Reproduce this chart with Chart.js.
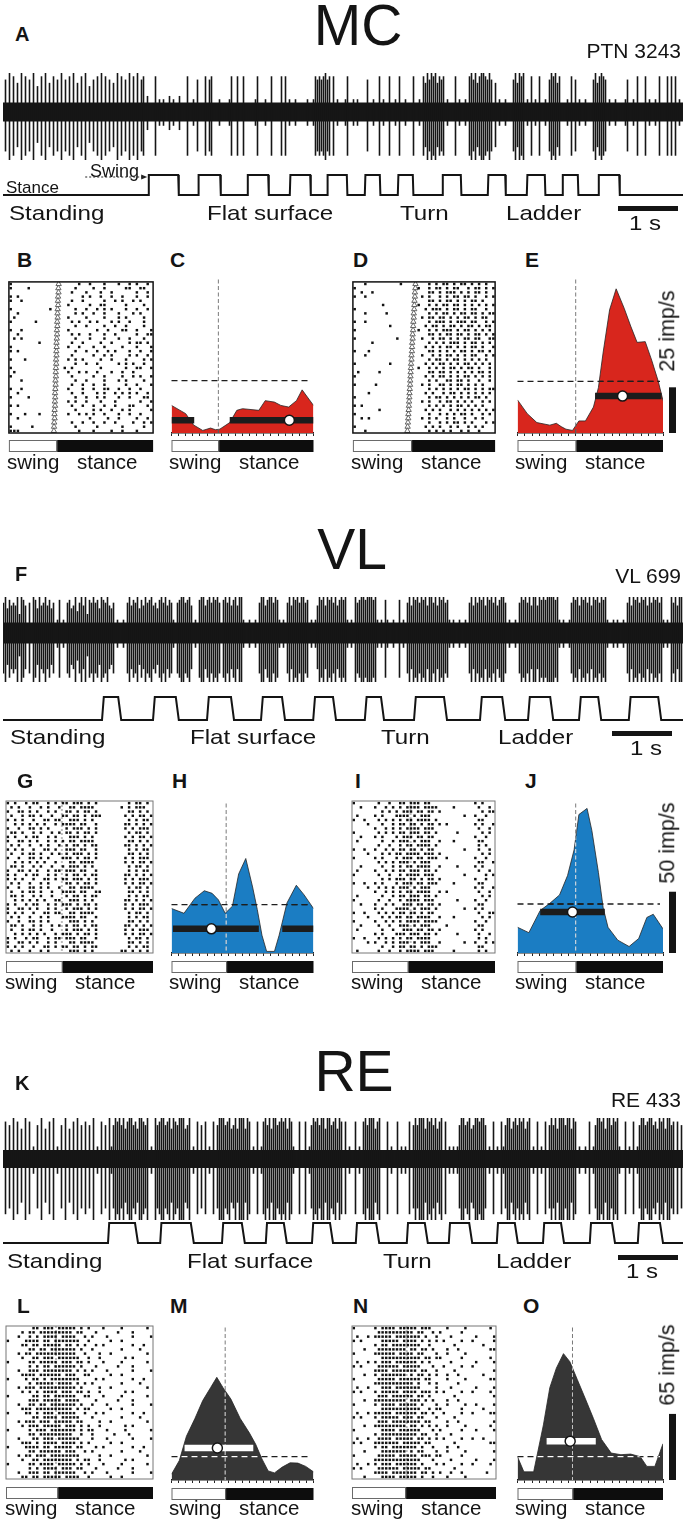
<!DOCTYPE html>
<html>
<head>
<meta charset="utf-8">
<title>MC / VL / RE</title>
<script src="https://cdn.jsdelivr.net/npm/chart.js@4.4.1/dist/chart.umd.min.js"></script>
<style>
  html, body { margin: 0; padding: 0; background: #fff; }
  body { position: relative; width: 686px; height: 1529px; overflow: hidden; font-family: "Liberation Sans", Arial, sans-serif; color: #141414; }
  canvas { position: absolute; }
  .t { position: absolute; white-space: nowrap; line-height: 1; }
</style>
</head>
<body>
<script>
/* ---------- DATA ---------- */

// spike envelopes, one digit per 1/30 s (0 = background noise only, 9 = largest spike)
const BIN = 1 / 30;
const mcSpikes = ['0709080609','0807090508','0906080709','0708090608','0905070809','0807060908','0709080907','8020008010',
  '1002010020','0080010700','0807800010','0001800800','8000001800','0100800008','0801001000','0010018787','8978080100',
  '0180010100','0070010080','1008001080','0100080010','8697989687','8010008010','0108979689','9879706010','0100079698',
  '9010801080','0107989680','0010807010','0100079689','8701001000','0170010800','0801001080','0080808010'].join('');
const vlSpikes = ['7958676939','8607098596','7968570180','1078569479','6938797859','8796570100','1079687958','6978967589',
  '7968710789','9789601089','9689798970','8979689699','1001001079','9689979810','1079698979','9780101698','9698979689',
  '8910109789','9899989101','0810010080','1079698979','8969979698','9781010010','0107969798','9698979689','9701001079',
  '8979699698','9899998910','1001798969','8979698979','8910010100','1079698979','8969798979','1010979699'].join('');
const reSpikes = ['0807090806','0908010709','0608090107','0906080907','0807090108','0709179897','9689978699','8790109789',
  '9789698799','9679010807','0801080799','9789679699','9698010801','8979699789','8969810080','0801798979','9699789698',
  '0801008010','8979996890','0080100801','0108079799','9698979689','0801010179','9789679989','9701080108','1799689798',
  '9689010801','0807979699','9799698010','0108017998','9699798910','0801080179','9789978698','9699780807'].join('');

// spike amplitudes (same units as the trace axis)
const mcAmp = { up: 39, down: 48, noise: 9.5 };
const vlAmp = { up: 36, down: 49, noise: 10.5 };
const reAmp = { up: 41, down: 61, noise: 9 };

// swing periods [onset, offset] in s
const mcSteps = [[2.42,2.92],[3.25,3.62],[4.07,4.42],[4.78,5.12],[5.4,5.73],[6.03,6.28],[6.58,6.83],[7.32,7.63],[8.08,8.37],[8.73,9.03],[9.32,9.58],[9.92,10.27]];
const vlSteps = [[1.65,1.92],[2.5,2.88],[3.4,3.8],[4.3,4.65],[5.17,5.5],[6.03,6.3],[6.85,7.35],[7.95,8.32],[8.75,9.12],[9.6,9.92],[10.43,10.92]];
const reSteps = [[1.75,2.2],[2.62,3.13],[3.65,3.98],[4.38,4.68],[5.15,5.45],[5.88,6.22],[6.73,7.03],[7.43,7.77],[8.23,8.53],[9.0,9.3],[9.78,10.15],[10.58,10.95]];
const mcScaleStart = 10.25, vlScaleStart = 10.15, reScaleStart = 10.25;
const swingArrowFrom = 1.37;

const sectionNames = ['MC', 'VL', 'RE'];
const cellIds = ['PTN 3243', 'VL 699', 'RE 433'];
const taskLabels = ['Standing', 'Flat surface', 'Turn', 'Ladder'];
const rateScales = [25, 50, 65];   // imp/s

// rasters: one string per step cycle, 40 phase bins from swing onset
const rasterB = [
"#..................#..#...#...#..#.#..#.",
"#....#............#....#..#.....##..##..",
".................#...#...#..#......#..#.",
"#.#.................#.#..#..#..#...#..#.#",
"#..#.............#..#.....#..#.#..#.#...",
"................#.....#..##.....#....#..",
"#..........#......#..#..#.#.#...#..#..#.",
"..#...............#.#..#..#...#...#.#..",
".#..............#....#....#...#.#....#..",
"#......#.........#.#..#.#...#.#..#...#..",
"..................#..#....#..#..#....#..",
"#..#............#.......#..#...##..#...#",
"..#..............#.#..#...#..#.....#..##",
".#.#..............#...#...#...#..#...#..",
"........#........#..#....#..#....#.##.#.",
"#...............#..#...#..#....#...#...#",
"#.#...............#..#..#..#.#...#..#..#",
".................#.....#..#.#....#.#..#.",
"#...#...........#.#.#....#..#...#....#.#",
"..................#..#..#.....#.#.#..#..",
"#..............#.#.......#......#..##..#",
".#..............#..#.#..#...#..#..#.....",
"#................#.....#..#....#..#.#..#",
"...#..............#..#....#...#.#....#..",
".................#..#..#..#.....#..#...#",
"#..#............#...#..#..##..#..#..#...",
"..#..............#..#...#.#..#.#.#.#..#.",
"#....#............#..#..#.#...#..#...##.",
"................#.#..#...#...#......#..#",
"#.#..............#..#..#..#..#...##...#.",
"..................#....#.#..#..#.#.....#",
"#...#...#.......#..#.#.#..#...#..#..#...",
"..#...................#....#..#....#..#.",
".................#..#..#..#..#....#..#.#",
"#.....#...........#.....#......#.....#..",
"###................#...#....#..#...#...."];
const rasterD = [
"...#.........#.......#.#.##.#.##.#.#.#..",
"#.................#..#.##.#.##..#.##.#.#",
"..#..#...............##.#.###.#.#.##.#..",
"#..#...............#.#..#.#.##.##.#..#.#",
".....................##.#.##.#.#.##.#...",
"........#.........#..#.#.##.##.#.#.#.#.#",
"#...................#.###.#.##.#.##..#..",
"...#.....#...........#.#.##.#.##.##.#.##",
"...................#.##.##.#.#.##.#.##..",
"#..#.................#.###.#.###.##..#.#",
"..........#.........#.##.#.##.#.##.#.##.",
"#.................#..#.#.###.#.##.#.#.#.",
".....................##.#.##.##.#.##.#.#",
"#...........#......#..#.##.#.#.##.##..##",
".....#...............#.#.#.###.#.##.#.#.",
"....................#.#.#.##.#.#.##.#..#",
"#...#................##.#.#.#.##.#.##.#.",
"...#...............#..#.#.##.#.#.##..#.#",
".....................#.##.#.##.#.#.#.#..",
"#.........#.........#.#.##.#.#.##.#.#.#.",
"..................#..#.#.#.##.#.##.#..#.",
".#.....#.............##.##.#.#.#.#.##.#.",
"#...................#.#.##.#.#.##.#.#.#.",
".....................#.#..##.##.#..#..#.",
"#.....#............#.#..##.#.##.#.#.#...",
".....................#.#.#.#.#.##.#.#.##",
"....#...............#.#..#.##.#.#.#.#.#.",
"#....................#.##.#.#.#.#.##.#..",
"...................#.#..#.##.#.#.#..#.#.",
"#.#..................#.#.#.#.##.#.#.#...",
".......#............#.#.#..#.#.#.#.#.#.#",
"#....................#..#.#.#.##.#..#.#.",
"..#.#..............#.#.#..#.#..#..#.#...",
".....................#..#.#.##.#.#...#.#",
"#...................#.#.#..#.#..#.#.#...",
"...#.................#.#.#.#..#.#..#...."];
const rasterG = [
"#.#..#.##..#.#.##.###.#.#........#.##.#.",
".#.#..#..#.#..#..##.####.......#.#.###.",
"#..##.#.#..#.#..##.#.##.#........##.#.#.",
".#..#.##.#..#..##.##.#.###......#.#.##.#",
"#.#.#..#..##.##..###.#.#.........#.#.##.",
"..#.#.#.#.#..#.####.##..#.......##.#.#.#",
"#..#..##.#.#....#.###.#.#.......#.#.###.",
".##.#..#.#..#.#.##.#.##.#........#.##.#.",
"#.#..#.##..#.#...###.#.#........#.#.##.#",
"#..##.#.#..#.#.#.##.####.........##.#.#.",
".#.#..#..#.#..#.#.##.#.##.......##.#.#.#",
"#.#.#..#..##.#..###.##..#........#.#.##.",
".#..#.##.#..#.#.#.###.#.#........##.#.#.",
"#..#..##.#.#...###.#.##.#.......#.#.###.",
"..#.#.#.#.#..#...##.####........#.#.##.#",
".##.#..#.#..#..#.###.#.#.........#.##.#.",
"#..##.#.#..#.##.###.##..#........#.#.##.",
"#.#..#.##..#.#..#.##.#.##.......##.#.#.#",
"#.#.#..#..##.#.##.###.#.#.......#.#.###.",
".#.#..#..#.#....##.#.##.#.......#.#.##.#",
"#..#..##.#.#..#..##.####.........#.##.#.",
".#..#.##.#..#..####.##..##.......##.#.#.",
".##.#..#.#..#...#.##.#.##........#.#.##.",
"..#.#.#.#.#..##..###.#.#........##.#.#.#",
"#.#..#.##..#.#.###.#.##.#.......#.#.###.",
"#..##.#.#..#.#..#.###.#.#.......#.#.##.#",
"#.#.#..#..##.##..##.####.........#.##.#.",
".#.#..#..#.#...####.##..#........#.#.##.",
"#..#..##.#.#.....###.#.#.........##.#.#.",
".##.#..#.#..#.#.#.##.#.##.......##.#.#.#",
".#..#.##.#..#...#.###.#.#.......#.#.###.",
"..#.#.#.#.#..#.###.#.##.#.......#.#.##.#",
"#.#..#.##..#.##.###.##..#........#.##.#.",
"#..##.#.#..#.#...##.####.........##.#.#.",
"#.#.#..#..##.#.##.##.#.##........#.#.##.",
".#.#..#..#.#.....###.#.#.......##.#.#.#"];
const rasterI = [
"#......#..#..##.###.##............#.#...",
"..#...#..#.#.#.####.####....#......#..#.",
"........#.#.#.###.##.##.#...........#.##",
".#....#.#...####.#.###.........#..#..#..",
"#..#...#.#.#.#.##.####.#...........##...",
"....#...#..#.##.##.#.##.#.#.......#.#..#",
"......#..#.#.#.####.###............#..#.",
"#......#.#.#.##.###.##.#.....#......#.#.",
"..#...#.#...#.###.##.##...........#..#..",
".#......#..#.###.#.###..#...#......##...",
".......#..#..#.##.####.#...........#.#..#",
"#..#..#..#.#.##.##.#.##........#...#..#.",
"....#...#.#.##.####.###.#...........#.#.",
"#.....#.#...#.###.##.###..#.......#..#..",
".......#.#.#.###.#.###.............##..#",
"..#.....#..#.#.##.####..#....#....#.#...",
".#....#..#.#.##.###.##.#...........#..#.",
"#......#..#..#.####.###........#.....#.#.",
"........#.#.###.##.#.##.#.........#..#..",
"#..#..#.#...#.###.##.###....#......##...",
"....#..#.#.#.###.#.###............#.#..#",
"......#..#.#.#.##.####..#.#........#..#.",
".#......#..#.##.###.##.#............#.#.",
"#......#..#..#.####.###......#....#..#..",
"..#...#..#.#..###.##.##.#..........##...",
"......#.#...####.#.###.#.......#..#.#...",
"#..#...#.#.#.##.##.#.##............#..##",
"....#...#.#.##.##.####..#...#.......#.#.",
"#.....#..#.#.#.####.####..........#..#..",
"..#....#..#..###.#.###....#........##...",
".#......#..#..###.##.##.#.........#.#...",
"......#.#...###.###.##.#.....#.....#..#.",
"#..#...#.#.#.#.##.####.............#.#.",
"....#.#..#.#.###.#.###..#......#..#..#.#",
"........#..#.##.##.#.###...........##...",
".#.....#..#..#.####.###.....#......#.#..."];
const rasterL = [
".......##.###.#####.#.#...#....#......#.",
"....#.##.#########.##...#.....#...#.....",
"...#..#.#.####.####..#.#...#......#....#",
"#....####.##.#######..#.....#..#........",
"....##.##.#####.##.#.#..#.#.......#..#..",
"......##.##.#######.#..#.......#....#...",
"...#.##.###########..#...#..#.........#.",
"....#..##.###.######..#..#......#.#.....",
"#.....##.#####.###.##.#...#....#......#.",
"......#.#.##.######.#...#.....#...#.....",
"...#..###.########.#.#.#...#......#....#",
"....####.######.###..##.....#..#........",
"#....#.##.#.########....#.#.......#..#..",
"......#.#####.####.#.#.#.......#....#...",
"...#.###.##########.#....#..#.........#.",
"....#.#.#.####.###.##.#..#......#.#.....",
"#......##.##.######..##...#....#......#.",
"......###.#####.####....#.....#...#.....",
"...#..##.##.#######.#..#...#......#....#",
"....###.##########.#.##.....#..#........",
"#....##.#.###.#####..#..#.#.......#..#..",
".......##.####.#####...#.......#....#...",
"...#.###.###.#####.##....#..#.........#.",
"....#.###.#####.###.#.#..#......#.#.....",
"#.....#.###.#######.#.##...#....#......#.",
"......##.#########..#..#.....#...#.....",
"...#...##.###.######...#...#......#....#",
"....###.#.####.####.#.#.....#..#........",
"#....####.##.#####.##...#.#.......#..#..",
"......##.######.###..#.#.......#....#...",
"...#.##.###.########.....#..#.........#.",
"....#..##.########.#.##..#......#.#.....",
"#.....##.####.#####.#.#...#....#......#.",
"......#.#.####.###.##...#.....#...#.....",
"...#..###.##.######..#.#...#......#....#",
"....##.##.#####.####..#.....#..#........"];
const rasterN = [
"#.....#.####.#####.###....#....#......#.",
".......##########.##..#.#.....#.........",
".#..#.#####.#######.#..#...#......#....#",
"#.#.....#####.####.#.#.#.#....#..#.....#",
"......#.##.########..#......#.......#...",
"...#...########.##.##.#...#..#........##",
"#.....######.####.##...#..#....#........",
"........###########.##.##.....#.......#.",
".#..#.#.###.######.#.#.....#......#....#",
"#.#....######.#####...#..#....#..#......",
"......####.#######.##..#....#..........#",
"...#..#.#######.#.##.#.#..#..#......#...",
"#......#####.######.##....#....#......##",
"......###########.#..#.#.....#..........",
".#..#...###.#######....#...#......#....#",
"#.#...#.#####.####.###.#.#....#..#....#.",
".......###.######.##.#......#..........#",
"...#..#########.###.#.#...#..#..........",
"#.....#.####.#####.#...#..#....#..#....#",
"........###########..#.##.....#.....#...",
".#..#.#####.######.##.#..#....#..#....##",
"#.#...#.#####.###.##...#....#...........",
".......###.########.##....#..#.........#",
"...#..#########.##.#.#.#..#....#......#.",
"#.......####.######...#.#.....#...#....#",
"......#.##########.##..#...#............",
".#..#..####.#####.##.#.#.#....#..#..#...",
"#.#...#######.#####.##......#.........##",
"......#.##.#######.#..#...#..#..........",
"...#....#######.#.##...#..#....#.......#",
"#......#####.#####.###.##.....#.........",
"......#############...#....#......#....#",
".#..#.#.###.######.#...#.#....#..#....#.",
"#.#....######.#####.##......#...........",
"......####.#######.##.#.#..#..#......#...",
"...#....####.#####.#..#...#....#........"];

// stance-onset marks in the rasters (fraction of cycle)
const onsetB = [0.345,0.343,0.344,0.341,0.34,0.341,0.338,0.337,0.338,0.335,0.336,0.333,0.334,0.332,0.33,0.331,0.329,0.33,
  0.327,0.328,0.326,0.325,0.326,0.323,0.324,0.322,0.32,0.321,0.319,0.32,0.317,0.316,0.317,0.314,0.313,0.312];
const onsetD = [0.44,0.439,0.436,0.436,0.433,0.432,0.431,0.428,0.428,0.425,0.424,0.423,0.42,0.42,0.417,0.416,0.415,0.412,
  0.412,0.409,0.408,0.406,0.405,0.403,0.402,0.4,0.398,0.397,0.395,0.394,0.392,0.39,0.389,0.387,0.385,0.383];
const onsetG = 0.38, onsetI = 0.41, onsetL = 0.34, onsetN = 0.38;
const swingB = 0.33, swingD = 0.41, swingG = 0.38, swingI = 0.39, swingL = 0.35, swingN = 0.37;

// phase histograms (imp/s)
const cPhase = [0,0.1,0.155,0.22,0.275,0.31,0.34,0.41,0.46,0.5,0.615,0.66,0.725,0.77,0.825,0.88,0.92,1];
const cRate  = [15.1,10.6,4.4,1.4,2.7,1.8,2.1,5.7,12.4,13.3,12.4,17.7,16.9,15.1,14.2,17.7,23.6,15.1];
const ePhase = [0,0.067,0.133,0.222,0.267,0.3,0.333,0.378,0.422,0.467,0.522,0.556,0.589,0.633,0.678,0.733,0.778,0.822,0.878,0.922,0.967,1];
const eRate  = [18.1,10.6,5.7,4.3,5.3,3.5,2.1,1.4,6.6,6.6,14.2,24.8,44.3,67.4,78.9,68.3,58.5,49.6,50,39.9,28.4,17.7];
const hPhase = [0,0.088,0.165,0.231,0.286,0.33,0.378,0.429,0.473,0.523,0.571,0.604,0.637,0.67,0.725,0.758,0.813,0.879,0.934,1];
const hRate  = [36.3,32.4,44.7,50.8,48.7,43.4,32.4,38.2,64.5,77.1,53.9,35.5,14.5,1.3,1.3,14.5,40.8,55.3,47.4,36.3];
const jPhase = [0,0.078,0.156,0.222,0.289,0.344,0.389,0.422,0.456,0.478,0.511,0.556,0.589,0.622,0.689,0.767,0.833,0.889,0.933,1];
const jRate  = [21,16.6,34.7,40.5,47.4,63.2,84.2,113,116,118,100,65.8,36.8,21,10.5,5.3,11.8,29,31.6,19.7];
const mPhase = [0,0.055,0.105,0.165,0.22,0.275,0.319,0.363,0.418,0.484,0.549,0.593,0.637,0.681,0.725,0.78,0.835,0.89,0.945,1];
const mRate  = [5.7,19.1,43,60.5,78.1,90.8,101,90.8,79.7,60.5,46.2,35.1,20.7,8.9,7,12.7,16.9,16.6,13.4,8];
const oPhase = [0,0.044,0.111,0.178,0.222,0.267,0.316,0.36,0.411,0.467,0.522,0.578,0.644,0.711,0.778,0.844,0.889,0.944,1];
const oRate  = [22.9,8,8,54.2,90.8,110,124.3,116.3,98.8,79.7,60.5,39.8,26.5,24.9,25.5,22.9,13.4,13.4,35.7];

// activity period bars, their level, preferred phase, mean rate, end of swing
const cBand = [[0,0.16],[0.41,1]], cLevel = 7,    cPref = 0.83,  cMean = 28.7, cSwing = 0.33;
const eBand = [[0.533,0.99]],      eLevel = 20.2, ePref = 0.722, eMean = 28.2, eSwing = 0.4;
const hBand = [[0.01,0.615],[0.78,1]], hLevel = 19.7, hPref = 0.281, hMean = 39.5, hSwing = 0.385;
const jBand = [[0.156,0.6]],       jLevel = 33.5, jPref = 0.378, jMean = 40,   jSwing = 0.4;
const mBand = [[0.092,0.576]],     mLevel = 31.5, mPref = 0.323, mMean = 23,   mSwing = 0.378;
const oBand = [[0.2,0.538]],       oLevel = 38.2, oPref = 0.362, oMean = 23,   oSwing = 0.378;

/* ---------- HELPERS ---------- */

const COLS = 40, ROWS = 36;
const DUR = mcSpikes.length * BIN;

function place(x, y, w, h) {
  const c = document.createElement('canvas');
  c.width = w; c.height = h;
  c.style.left = x + 'px'; c.style.top = y + 'px';
  c.style.width = w + 'px'; c.style.height = h + 'px';
  document.body.appendChild(c);
  return c;
}

function opts(scales, padding, plugins) {
  return {
    responsive: false, animation: false, events: [], devicePixelRatio: 1,
    layout: { padding },
    scales,
    plugins: Object.assign({ legend: { display: false }, tooltip: { enabled: false } }, plugins)
  };
}

function txt(s, x, base, fs, o = {}) {
  const d = document.createElement('div');
  d.className = 't';
  d.textContent = s;
  d.style.fontSize = fs + 'px';
  d.style.top = (base - 0.8465 * fs) + 'px';
  if (o.bold) d.style.fontWeight = 'bold';
  let tr = '';
  if (o.align === 'right') { d.style.right = (686 - x) + 'px'; d.style.transformOrigin = 'right center'; }
  else if (o.align === 'center') { d.style.left = x + 'px'; tr = 'translateX(-50%) '; }
  else { d.style.left = x + 'px'; d.style.transformOrigin = 'left center'; }
  if (o.sx) tr += 'scaleX(' + o.sx + ')';
  d.style.transform = tr;
  document.body.appendChild(d);
}

function vtxt(s, cx, cy, fs) {
  const d = document.createElement('div');
  d.className = 't';
  d.textContent = s;
  d.style.fontSize = fs + 'px';
  d.style.left = cx + 'px'; d.style.top = cy + 'px';
  d.style.transform = 'translate(-50%,-50%) rotate(-90deg)';
  document.body.appendChild(d);
}

/* ---------- PLUGINS ---------- */

const scaleBarPlugin = {
  id: 'sbar',
  afterDraw(chart, args, o) {
    const { ctx, chartArea: a, scales: { x } } = chart;
    const x0 = x.getPixelForValue(o.start), x1 = x.getPixelForValue(o.start + 1);
    ctx.save();
    ctx.fillStyle = '#141414';
    ctx.fillRect(x0, a.bottom + o.dy, x1 - x0, 5);
    ctx.restore();
  }
};

const swingArrowPlugin = {
  id: 'swingArrow',
  afterDraw(chart, args, o) {
    const { ctx, chartArea: a, scales: { x } } = chart;
    const x0 = x.getPixelForValue(o.from), x1 = x.getPixelForValue(o.to) - 1;
    const y = a.top + 2;
    ctx.save();
    ctx.strokeStyle = '#222'; ctx.lineWidth = 1; ctx.setLineDash([2, 2]);
    ctx.beginPath(); ctx.moveTo(x0, y); ctx.lineTo(x1 - 5, y); ctx.stroke();
    ctx.setLineDash([]); ctx.fillStyle = '#222';
    ctx.beginPath(); ctx.moveTo(x1, y); ctx.lineTo(x1 - 6, y - 2.5); ctx.lineTo(x1 - 6, y + 2.5); ctx.closePath(); ctx.fill();
    ctx.restore();
  }
};

const phaseBarPlugin = {
  id: 'phaseBar',
  afterDraw(chart, args, o) {
    const { ctx, chartArea: a, scales: { x } } = chart;
    const x0 = x.getPixelForValue(0), x1 = x.getPixelForValue(1), xs = x.getPixelForValue(o.swingEnd);
    const y0 = a.bottom + o.gap;
    ctx.save();
    ctx.fillStyle = '#0d0d0d';
    ctx.fillRect(xs, y0, x1 - xs, 12);
    ctx.strokeStyle = '#6a6a6a'; ctx.lineWidth = 1;
    ctx.strokeRect(x0 + 0.5, y0 + 0.5, xs - x0, 11);
    ctx.restore();
  }
};

const boxPlugin = {
  id: 'box',
  afterDraw(chart, args, o) {
    const { ctx, chartArea: a } = chart;
    ctx.save();
    ctx.strokeStyle = o.color; ctx.lineWidth = o.width;
    ctx.strokeRect(a.left, a.top, a.right - a.left, a.bottom - a.top);
    ctx.restore();
  }
};

const refLinesPlugin = {
  id: 'refLines',
  afterDatasetDraw(chart, args, o) {
    if (args.index !== 2) return;
    const { ctx, chartArea: a, scales: { x, y } } = chart;
    const xs = x.getPixelForValue(o.swingEnd), ym = y.getPixelForValue(o.mean);
    const pts = args.meta.data;
    const lines = (vCol, hCol) => {
      ctx.lineWidth = 1; ctx.setLineDash([4, 2.5]); ctx.strokeStyle = vCol;
      ctx.beginPath(); ctx.moveTo(xs, a.top); ctx.lineTo(xs, a.bottom); ctx.stroke();
      ctx.lineWidth = 1.3; ctx.setLineDash([6, 4]); ctx.strokeStyle = hCol;
      ctx.beginPath(); ctx.moveTo(a.left, ym); ctx.lineTo(a.right - 3, ym); ctx.stroke();
    };
    ctx.save();
    lines(o.vOut, o.hOut);
    ctx.beginPath();
    ctx.moveTo(pts[0].x, a.bottom);
    pts.forEach(p => ctx.lineTo(p.x, p.y));
    ctx.lineTo(pts[pts.length - 1].x, a.bottom);
    ctx.closePath();
    ctx.clip();
    lines(o.vIn, o.hIn);
    ctx.restore();
  }
};

const rateBarPlugin = {
  id: 'rateBar',
  afterDraw(chart, args, o) {
    const { ctx, chartArea: a, scales: { y } } = chart;
    const y0 = y.getPixelForValue(0), y1 = y.getPixelForValue(o.value);
    ctx.save();
    ctx.fillStyle = '#141414';
    ctx.fillRect(a.right + 6, y1, 7, y0 - y1);
    ctx.restore();
  }
};

/* ---------- CHART BUILDERS ---------- */

function drawTrace(code, cy, amp) {
  const bars = [];
  for (let i = 0; i < code.length; i++) {
    const d = Number(code[i]);
    if (!d) continue;
    const k = d / 9;
    bars.push({ x: (i + 0.25) * BIN, y: [-(amp.noise + k * (amp.down - amp.noise)), amp.noise + k * (amp.up - amp.noise)] });
  }
  const R = 66;
  new Chart(place(3, cy - R, 680, 2 * R), {
    type: 'bar',
    data: { datasets: [
      { type: 'bar', data: bars, backgroundColor: '#161616', barThickness: 1.6, inflateAmount: 0 },
      { type: 'line', data: [{ x: 0, y: amp.noise }, { x: DUR, y: amp.noise }], fill: { value: -amp.noise },
        backgroundColor: '#161616', borderWidth: 0, pointRadius: 0 }
    ] },
    options: opts({ x: { type: 'linear', min: 0, max: DUR, display: false, offset: false },
                    y: { min: -R, max: R, display: false } }, 0, {})
  });
}

function drawSteps(steps, hi, lo, rise, fall, barStart, barDy, arrow) {
  const pts = [{ x: 0, y: 0 }];
  steps.forEach(([a, b]) => pts.push({ x: a, y: 0 }, { x: a + rise, y: 1 }, { x: b, y: 1 }, { x: b + fall, y: 0 }));
  pts.push({ x: DUR, y: 0 });
  const padT = 8, padB = 40;
  new Chart(place(3, hi - padT, 680, lo - hi + padT + padB), {
    type: 'line',
    data: { datasets: [{ data: pts, borderColor: '#141414', borderWidth: 2, pointRadius: 0, tension: 0, clip: false }] },
    options: opts({ x: { type: 'linear', min: 0, max: DUR, display: false }, y: { min: 0, max: 1, display: false } },
                  { top: padT, bottom: padB, left: 0, right: 0 },
                  { sbar: { start: barStart, dy: barDy }, swingArrow: arrow || false }),
    plugins: [scaleBarPlugin, swingArrowPlugin]
  });
}

function rasterPoints(rows) {
  const pts = [];
  rows.forEach((row, r) => {
    for (let c = 0; c < Math.min(row.length, COLS); c++) {
      if (row[c] === '#') pts.push({ x: (c + 0.5) / COLS, y: r + 0.5 });
    }
  });
  return pts;
}

function drawRaster(box, rows, onset, swingEnd, gap, border) {
  const sets = [{ type: 'scatter', data: rasterPoints(rows), pointStyle: 'rect', pointRadius: 1.75,
                  backgroundColor: '#121212', borderWidth: 0 }];
  if (Array.isArray(onset)) {
    sets.push({ type: 'scatter', data: onset.map((v, r) => ({ x: v, y: r + 0.5 })), pointStyle: 'triangle',
                pointRadius: 3.1, backgroundColor: '#fff', borderColor: '#555', borderWidth: 0.9 });
  } else {
    sets.push({ type: 'line', data: [{ x: onset, y: 0 }, { x: onset, y: ROWS }], borderColor: '#bdbdbd',
                borderWidth: 2, borderDash: [2, 2], pointRadius: 0 });
  }
  const w = box.r - box.l, h = box.b - box.t;
  new Chart(place(box.l - 1, box.t - 1, w + 2, h + 24), {
    type: 'scatter',
    data: { datasets: sets },
    options: opts({ x: { type: 'linear', min: 0, max: 1, display: false },
                    y: { min: 0, max: ROWS, reverse: true, display: false } },
                  { left: 1, right: 1, top: 1, bottom: 23 },
                  { phaseBar: { swingEnd, gap }, box: border }),
    plugins: [phaseBarPlugin, boxPlugin]
  });
}

function drawHist(box, h) {
  const bandPts = [];
  h.band.forEach(([a, b], i) => {
    if (i) bandPts.push({ x: (a + h.band[i - 1][1]) / 2, y: null });
    bandPts.push({ x: a, y: h.level }, { x: b, y: h.level });
  });
  const padR = h.scale ? 16 : 2;
  const w = box.r - box.l;
  const plugins = [phaseBarPlugin, refLinesPlugin];
  if (h.scale) plugins.push(rateBarPlugin);
  new Chart(place(box.l - 2, box.t - 2, w + 2 + padR, (box.b - box.t) + 2 + 3 + 20), {
    type: 'line',
    data: { datasets: [
      { type: 'scatter', data: [{ x: h.pref, y: h.level }], pointRadius: 5, pointBackgroundColor: '#fff',
        pointBorderColor: '#141414', pointBorderWidth: 1.5 },
      { type: 'line', data: bandPts, borderColor: h.bandColor, borderWidth: 6.5, pointRadius: 0,
        borderCapStyle: 'butt', spanGaps: false, fill: false },
      { type: 'line', data: h.phase.map((p, i) => ({ x: p, y: h.rate[i] })), fill: 'origin',
        backgroundColor: h.color, borderColor: '#262626', borderWidth: 0.8, pointRadius: 0, tension: 0 }
    ] },
    options: opts({
      x: { type: 'linear', min: 0, max: 1,
           ticks: { display: false, stepSize: 0.05 },
           grid: { drawOnChartArea: false, drawTicks: true, tickLength: 3, color: '#222', lineWidth: 1 },
           border: { display: true, color: '#1a1a1a', width: 1.5 } },
      y: { min: 0, max: h.yMax, display: false }
    }, { left: 2, right: padR, top: 2, bottom: 20 }, {
      phaseBar: { swingEnd: h.swing, gap: h.gap },
      refLines: { swingEnd: h.swing, mean: h.mean, vOut: '#7a7a7a', hOut: '#1e1e1e', vIn: h.vIn, hIn: h.hIn },
      rateBar: h.scale ? { value: h.scale } : false
    }),
    plugins
  });
}

/* ---------- LAYOUT ---------- */

const RED = '#d8261d', BLUE = '#1b7dc3', DARK = '#363636';

// MC
drawTrace(mcSpikes, 112, mcAmp);
drawSteps(mcSteps, 175, 195, 0.01, 0.01, mcScaleStart, 11, { from: swingArrowFrom, to: mcSteps[0][0] });
drawRaster({ l: 5, r: 157, t: 278, b: 433 }, rasterB, onsetB, swingB, 7, { color: '#111', width: 1.5 });
drawRaster({ l: 349, r: 499, t: 278, b: 433 }, rasterD, onsetD, swingD, 7, { color: '#111', width: 1.5 });
drawHist({ l: 167, r: 318, t: 275, b: 433 }, { phase: cPhase, rate: cRate, band: cBand, level: cLevel, pref: cPref,
  mean: cMean, swing: cSwing, yMax: 84, color: RED, bandColor: '#1c1c1c', vIn: '#555', hIn: '#1e1e1e', gap: 7 });
drawHist({ l: 513, r: 663, t: 275, b: 433 }, { phase: ePhase, rate: eRate, band: eBand, level: eLevel, pref: ePref,
  mean: eMean, swing: eSwing, yMax: 84, color: RED, bandColor: '#1c1c1c', vIn: '#555', hIn: '#1e1e1e', gap: 7, scale: rateScales[0] });

// VL
drawTrace(vlSpikes, 632.5, vlAmp);
drawSteps(vlSteps, 697, 720, 0.03, 0.05, vlScaleStart, 11, null);
drawRaster({ l: 3, r: 156, t: 798, b: 953 }, rasterG, onsetG, swingG, 8, { color: '#777', width: 1 });
drawRaster({ l: 349, r: 498, t: 798, b: 953 }, rasterI, onsetI, swingI, 8, { color: '#777', width: 1 });
drawHist({ l: 167, r: 318, t: 799, b: 953 }, { phase: hPhase, rate: hRate, band: hBand, level: hLevel, pref: hPref,
  mean: hMean, swing: hSwing, yMax: 122, color: BLUE, bandColor: '#1c1c1c', vIn: '#d5e6f4', hIn: '#1e1e1e', gap: 8 });
drawHist({ l: 513, r: 663, t: 799, b: 953 }, { phase: jPhase, rate: jRate, band: jBand, level: jLevel, pref: jPref,
  mean: jMean, swing: jSwing, yMax: 122, color: BLUE, bandColor: '#1c1c1c', vIn: '#d5e6f4', hIn: '#1e1e1e', gap: 8, scale: rateScales[1] });

// RE
drawTrace(reSpikes, 1159, reAmp);
drawSteps(reSteps, 1223, 1243, 0.02, 0.05, reScaleStart, 12, null);
drawRaster({ l: 3, r: 156, t: 1323, b: 1479 }, rasterL, onsetL, swingL, 8, { color: '#777', width: 1 });
drawRaster({ l: 349, r: 499, t: 1323, b: 1479 }, rasterN, onsetN, swingN, 8, { color: '#777', width: 1 });
drawHist({ l: 167, r: 318, t: 1323, b: 1480 }, { phase: mPhase, rate: mRate, band: mBand, level: mLevel, pref: mPref,
  mean: mMean, swing: mSwing, yMax: 150, color: DARK, bandColor: '#fff', vIn: '#c4c4c4', hIn: '#fff', gap: 8 });
drawHist({ l: 513, r: 663, t: 1323, b: 1480 }, { phase: oPhase, rate: oRate, band: oBand, level: oLevel, pref: oPref,
  mean: oMean, swing: oSwing, yMax: 150, color: DARK, bandColor: '#fff', vIn: '#c4c4c4', hIn: '#fff', gap: 8, scale: rateScales[2] });

/* ---------- TEXT ---------- */

const sec = [
  { title: 45, letter: 41, id: 58, labels: 220, labelX: [9, 207, 400, 506], oneS: [645, 230], panel: 267,
    panelL: ['B', 'C', 'D', 'E'], letterS: 'A', sw: 469, rateY: 331 },
  { title: 569, letter: 581, id: 583, labels: 744, labelX: [10, 190, 381, 498], oneS: [646, 755], panel: 788,
    panelL: ['G', 'H', 'I', 'J'], letterS: 'F', sw: 989, rateY: 843 },
  { title: 1091, letter: 1090, id: 1107, labels: 1268, labelX: [7, 187, 383, 496], oneS: [642, 1278], panel: 1313,
    panelL: ['L', 'M', 'N', 'O'], letterS: 'K', sw: 1515, rateY: 1365 }
];
const titleX = [358, 352, 354];
const panelX = [[17, 170, 353, 525], [17, 172, 355, 525], [17, 170, 353, 523]];
const panelLeft = [[5, 167, 349, 513], [3, 167, 349, 513], [3, 167, 349, 513]];

sec.forEach((s, k) => {
  txt(sectionNames[k], titleX[k], s.title, 57, { align: 'center' });
  txt(s.letterS, 15, s.letter, 20, { bold: true });
  txt(cellIds[k], 681, s.id, 21, { align: 'right' });
  taskLabels.forEach((t, i) => txt(t, s.labelX[i], s.labels, 21, { sx: 1.15 }));
  txt('1 s', s.oneS[0], s.oneS[1], 20, { align: 'center', sx: 1.2 });
  s.panelL.forEach((p, i) => txt(p, panelX[k][i], s.panel, 21, { bold: true }));
  panelLeft[k].forEach(l => { txt('swing', l + 2, s.sw, 20.5); txt('stance', l + 72, s.sw, 20.5); });
  vtxt(rateScales[k] + ' imp/s', 668, s.rateY, 21.5);
});
txt('Swing', 90, 177, 18);
txt('Stance', 6, 193, 17);
</script>
</body>
</html>
